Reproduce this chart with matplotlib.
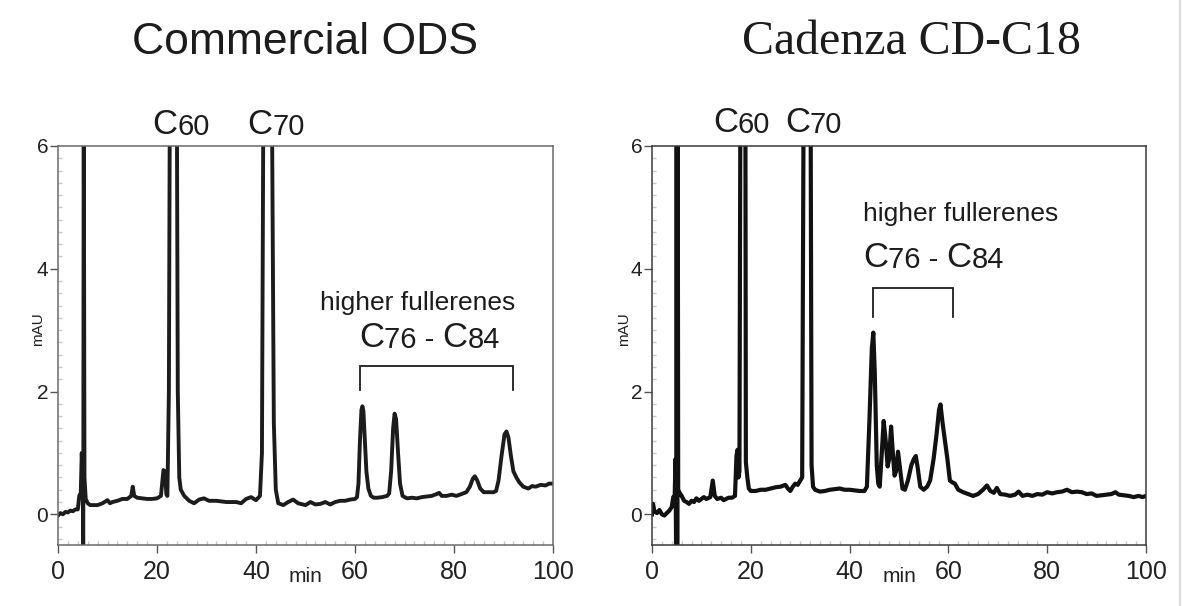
import matplotlib
matplotlib.use("Agg")
import matplotlib.pyplot as plt
from matplotlib.lines import Line2D
from matplotlib.ticker import MultipleLocator

plt.rcParams["font.family"] = ["Liberation Sans", "DejaVu Sans"]

# ---- chromatogram traces (time in min, absorbance in mAU) ----
ods_time = [0.0, 0.5, 1.0, 1.5, 2.0, 2.5, 3.0, 3.5, 4.0, 4.3, 4.6, 4.8, 5.0, 5.1, 5.2, 5.35,
            5.6, 6.0, 6.5, 7.0, 8.0, 9.0, 10.0, 10.5, 11.0, 12.0, 13.0, 14.0, 14.8, 15.1, 15.4,
            16.0, 17.0, 18.0, 19.0, 20.0, 20.8, 21.3, 21.6, 21.9, 22.1, 22.4, 22.6, 24.0, 24.2,
            24.5, 24.8, 25.5, 26.5, 27.5, 28.5, 29.5, 30.5, 32.0, 34.0, 36.0, 37.0, 38.0, 39.0,
            40.0, 40.8, 41.2, 41.5, 43.2, 43.6, 44.0, 44.5, 45.5, 46.5, 47.5, 48.5, 50.0, 51.0,
            52.0, 53.0, 54.0, 55.0, 56.0, 57.0, 58.0, 59.0, 60.0, 60.4, 60.7, 61.0, 61.3, 61.5,
            61.7, 62.0, 62.3, 62.7, 63.2, 63.8, 64.5, 65.5, 66.5, 66.9, 67.3, 67.7, 68.0, 68.3,
            68.7, 69.1, 69.6, 70.5, 71.5, 72.5, 73.5, 74.5, 75.5, 76.5, 77.0, 77.5, 78.5, 79.5,
            80.5, 81.5, 82.5, 83.2, 83.8, 84.2, 84.7, 85.3, 86.0, 87.0, 88.0, 88.5, 89.0, 89.6,
            90.2, 90.6, 91.0, 91.5, 92.0, 92.6, 93.2, 94.0, 95.0, 95.8, 96.5, 97.5, 98.5, 99.2,
            100.0]
ods_mau = [-0.02, 0.02, 0.0, 0.04, 0.03, 0.06, 0.05, 0.08, 0.08, 0.3, 0.35, 1.0, 0.5, -0.8, 7.0, 0.6,
           0.25, 0.18, 0.15, 0.15, 0.15, 0.18, 0.23, 0.18, 0.2, 0.22, 0.25, 0.25, 0.3, 0.45, 0.3,
           0.27, 0.26, 0.25, 0.25, 0.26, 0.3, 0.72, 0.7, 0.32, 0.3, 2.0, 7.0, 7.0, 2.0,
           0.6, 0.4, 0.3, 0.22, 0.18, 0.24, 0.26, 0.22, 0.22, 0.2, 0.2, 0.18, 0.25, 0.28,
           0.23, 0.3, 1.0, 7.0, 7.0, 1.5, 0.4, 0.18, 0.15, 0.2, 0.24, 0.18, 0.15, 0.2,
           0.16, 0.17, 0.2, 0.16, 0.2, 0.22, 0.22, 0.24, 0.25, 0.28, 0.5, 1.2, 1.7, 1.76,
           1.68, 1.2, 0.7, 0.42, 0.3, 0.27, 0.27, 0.28, 0.3, 0.34, 0.7, 1.4, 1.64, 1.55,
           1.0, 0.5, 0.3, 0.26, 0.27, 0.26, 0.28, 0.29, 0.3, 0.33, 0.35, 0.3, 0.3, 0.32,
           0.3, 0.33, 0.36, 0.45, 0.58, 0.62, 0.55, 0.42, 0.36, 0.36, 0.36, 0.38, 0.55, 0.95,
           1.3, 1.35, 1.25, 0.95, 0.7, 0.6, 0.52, 0.45, 0.42, 0.46, 0.45, 0.48, 0.47, 0.5,
           0.5]

cad_time = [0.0, 0.2, 0.5, 1.0, 1.5, 2.0, 2.5, 3.0, 3.5, 4.0, 4.3, 4.6, 4.75, 4.9, 5.0, 5.1, 5.2,
            5.3, 5.6, 6.0, 6.5, 7.0, 7.5, 8.0, 8.5, 9.0, 9.5, 10.0, 10.5, 11.0, 11.8, 12.3, 12.7,
            13.2, 14.0, 14.5, 15.0, 15.5, 16.2, 16.8, 17.1, 17.3, 17.5, 17.7, 17.9, 18.9, 19.0,
            19.3, 19.6, 20.0, 21.0, 22.0, 23.0, 24.0, 25.0, 26.0, 27.0, 27.5, 28.0, 28.5, 29.0,
            29.5, 30.0, 30.4, 30.7, 32.1, 32.3, 32.6, 33.0, 34.0, 35.0, 36.0, 37.0, 38.0, 39.0,
            40.0, 41.0, 42.0, 43.0, 43.5, 44.0, 44.5, 44.8, 45.1, 45.5, 45.8, 46.1, 46.5, 46.9,
            47.3, 47.7, 48.0, 48.4, 48.8, 49.1, 49.4, 49.8, 50.2, 50.7, 51.2, 51.8, 52.5, 53.0,
            53.4, 53.8, 54.3, 55.0, 55.7, 56.3, 57.0, 57.6, 58.1, 58.4, 58.8, 59.3, 59.8, 60.3,
            60.8, 61.3, 62.0, 63.0, 64.0, 65.0, 66.0, 67.0, 67.8, 68.5, 69.2, 69.8, 70.5, 71.5,
            72.5, 73.5, 74.2, 75.0, 76.0, 77.0, 78.0, 79.0, 80.0, 81.0, 82.0, 83.0, 84.0, 85.0,
            86.0, 87.0, 88.0, 89.0, 90.0, 91.0, 92.0, 93.0, 93.8, 94.5, 95.5, 96.5, 97.5, 98.5,
            99.3, 100.0]
cad_mau = [0.0, 0.17, 0.05, 0.02, 0.07, 0.0, -0.02, 0.02, 0.06, 0.12, 0.28, 0.3, 0.9, -0.8, 7.0, -0.8, 7.0,
           0.4, 0.35, 0.3, 0.22, 0.2, 0.17, 0.22, 0.2, 0.26, 0.22, 0.25, 0.28, 0.25, 0.28, 0.55, 0.3,
           0.25, 0.27, 0.23, 0.25, 0.27, 0.27, 0.3, 0.95, 1.05, 0.6, 0.7, 7.0, 7.0, 0.85,
           0.6, 0.42, 0.38, 0.38, 0.4, 0.4, 0.42, 0.44, 0.45, 0.48, 0.42, 0.38, 0.45, 0.5,
           0.48, 0.55, 0.6, 7.0, 7.0, 0.8, 0.45, 0.4, 0.37, 0.38, 0.4, 0.41, 0.42, 0.4,
           0.4, 0.39, 0.38, 0.38, 0.45, 1.5, 2.7, 2.96, 2.3, 0.8, 0.5, 0.45, 1.0, 1.52,
           1.2, 0.78, 0.9, 1.43, 0.95, 0.63, 0.7, 1.02, 0.75, 0.42, 0.4, 0.55, 0.8, 0.9,
           0.95, 0.75, 0.45, 0.4, 0.45, 0.55, 0.9, 1.3, 1.7, 1.79, 1.5, 1.2, 0.9, 0.55,
           0.52, 0.5, 0.4, 0.36, 0.33, 0.3, 0.33, 0.4, 0.47, 0.38, 0.35, 0.43, 0.33, 0.32,
           0.3, 0.32, 0.37, 0.3, 0.32, 0.3, 0.33, 0.32, 0.36, 0.34, 0.36, 0.37, 0.4, 0.36,
           0.37, 0.36, 0.33, 0.34, 0.3, 0.31, 0.32, 0.33, 0.36, 0.32, 0.31, 0.3, 0.28, 0.3,
           0.28, 0.3]

x_ticks = [0, 20, 40, 60, 80, 100]
y_ticks = [0, 2, 4, 6]

INK = "#1c1c1c"
W, H = 1182, 606

fig = plt.figure(figsize=(W / 100, H / 100), dpi=100)


def px_axes(x0, x1, y_top, y_bot):
    return fig.add_axes([x0 / W, 1 - y_bot / H, (x1 - x0) / W, (y_bot - y_top) / H])


def formula(ax, x, y, parts, big=25, small=21):
    # "C" large, carbon count smaller, same baseline
    t = ax.text(x, y, parts[0], fontsize=big, va="baseline", ha="left", color=INK)
    for i, p in enumerate(parts[1:], 1):
        t = ax.annotate(p, xy=(1, 0), xycoords=t, va="bottom", ha="left",
                        fontsize=big if i % 2 == 0 else small, color=INK,
                        annotation_clip=False)


def style(ax, spine_col):
    ax.set_xlim(0, 100)
    ax.set_ylim(-0.5, 6)
    ax.set_xticks(x_ticks)
    ax.set_yticks(y_ticks)
    ax.xaxis.set_minor_locator(MultipleLocator(2))
    ax.yaxis.set_minor_locator(MultipleLocator(0.2))
    for s in ax.spines.values():
        s.set_color(spine_col)
        s.set_linewidth(1.1)
    ax.tick_params(which="major", direction="out", length=6, width=1, color="#555")
    ax.tick_params(axis="x", which="major", labelsize=18, pad=5, labelcolor="#222")
    ax.tick_params(axis="y", which="major", labelsize=15, pad=1, labelcolor="#222")
    ax.tick_params(which="minor", direction="in", length=3, width=1, color="#c8c8c8")


def bracket(ax, t0, t1, top, bot):
    ax.plot([t0, t0, t1, t1], [bot, top, top, bot], color=INK, lw=1.3,
            solid_joinstyle="miter", clip_on=False)


# ---- left: commercial ODS ----
ax1 = px_axes(58, 553, 146, 545)
ax1.plot(ods_time, ods_mau, color=INK, lw=2.8)
style(ax1, "#6a6a6a")
formula(ax1, 19.0, 6.2, ["C", "60"])
formula(ax1, 38.2, 6.2, ["C", "70"])
ax1.text(52.9, 3.33, "higher fullerenes", fontsize=19, va="baseline", color=INK)
formula(ax1, 60.8, 2.72, ["C", "76 - ", "C", "84"])
bracket(ax1, 61.0, 91.9, 2.41, 2.02)
ax1.text(50, -0.08, "min", transform=ax1.get_xaxis_transform(), ha="center",
         va="center", fontsize=15, color="#222")
ax1.text(-0.04, 0.54, "mAU", transform=ax1.transAxes, rotation=90, ha="center",
         va="center", fontsize=11, color="#222")

# ---- right: Cadenza CD-C18 ----
ax2 = px_axes(652, 1146, 146, 545)
ax2.plot(cad_time, cad_mau, color="#111111", lw=3.0)
style(ax2, "#3a3a3a")
formula(ax2, 12.3, 6.23, ["C", "60"])
formula(ax2, 26.9, 6.23, ["C", "70"])
ax2.text(42.7, 4.78, "higher fullerenes", fontsize=19, va="baseline", color=INK)
formula(ax2, 42.7, 4.03, ["C", "76 - ", "C", "84"])
bracket(ax2, 44.7, 60.9, 3.69, 3.22)
ax2.text(50.2, -0.08, "min", transform=ax2.get_xaxis_transform(), ha="center",
         va="center", fontsize=15, color="#222")
ax2.text(-0.057, 0.54, "mAU", transform=ax2.transAxes, rotation=90, ha="center",
         va="center", fontsize=11, color="#222")

# ---- titles ----
fig.text(305 / W, 1 - 42 / H, "Commercial ODS", ha="center", va="center",
         fontsize=32, color=INK)
fig.text(912 / W, 1 - 42 / H, "Cadenza CD-C18", ha="center", va="center",
         fontsize=34.5, family="Liberation Serif", color=INK)

# thin grey page edge on the right
fig.add_artist(Line2D([1180 / W, 1180 / W], [0, 1], transform=fig.transFigure,
                      color="#dadada", lw=1.6))

fig.savefig("out.png", dpi=100, facecolor="white")
